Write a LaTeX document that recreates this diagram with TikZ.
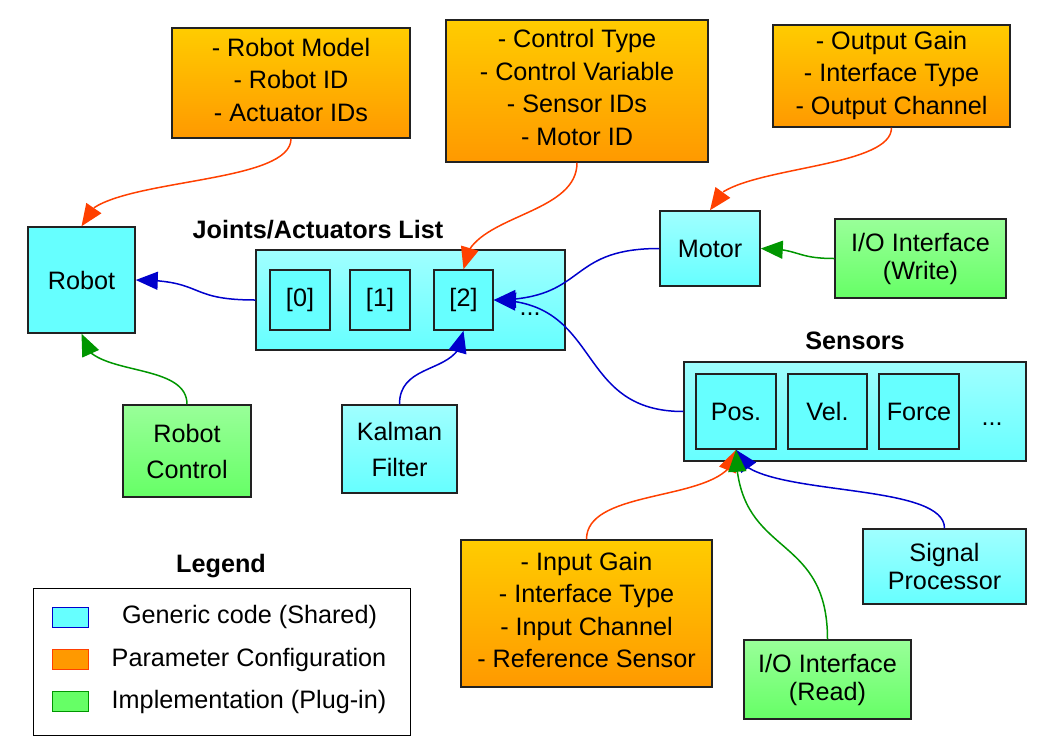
\documentclass[tikz,border=0pt]{standalone}
\usepackage{fontspec}
\setmainfont{Liberation Sans}
\usetikzlibrary{arrows.meta,bending}

\definecolor{genericcyan}{RGB}{102,255,255}
\definecolor{genericlight}{RGB}{160,255,255}
\definecolor{paramtop}{RGB}{255,204,0}
\definecolor{parambottom}{RGB}{255,153,0}
\definecolor{plugtop}{RGB}{153,255,153}
\definecolor{plugbottom}{RGB}{102,255,102}
\definecolor{paramarrow}{RGB}{255,64,0}
\definecolor{genericarrow}{RGB}{0,0,204}
\definecolor{plugarrow}{RGB}{0,150,0}
\definecolor{boxline}{RGB}{34,34,34}

\begin{document}
\begin{tikzpicture}[x=1pt, y=-1pt,
    box/.style={draw=boxline, line width=1.5pt, inner sep=0pt, align=center,
        font=\fontsize{25.2}{28}\selectfont},
    generic/.style={box, top color=genericlight, bottom color=genericcyan},
    flat/.style={box, fill=genericcyan},
    param/.style={box, top color=paramtop, bottom color=parambottom,
        font=\fontsize{25.2}{32.5}\selectfont, text depth=7pt},
    plugin/.style={box, top color=plugtop, bottom color=plugbottom},
    title/.style={font=\fontsize{25.2}{28}\selectfont\bfseries},
    conn/.style={line width=1.5pt, -{Triangle[length=22pt,width=18pt,flex=1]}}]

    \useasboundingbox (0,0) rectangle (1054,755);

    % parameter blocks
    \node[param, minimum width=238, minimum height=110] (robotparams) at (291,83)
        {- Robot Model\\- Robot ID\\- Actuator IDs};
    \node[param, minimum width=262, minimum height=142] (controlparams) at (577,91)
        {- Control Type\\- Control Variable\\- Sensor IDs\\- Motor ID};
    \node[param, minimum width=237, minimum height=102] (outputparams) at (891.5,76)
        {- Output Gain\\- Interface Type\\- Output Channel};
    \node[param, minimum width=251, minimum height=147] (inputparams) at (586.5,613.5)
        {- Input Gain\\- Interface Type\\- Input Channel\\- Reference Sensor};

    % generic blocks
    \node[flat, minimum width=107, minimum height=106] (robot) at (81.5,280) {Robot};
    \node[generic, minimum width=100, minimum height=75] (motor) at (710,248.5) {Motor};
    \node[generic, minimum width=115, minimum height=88, font=\fontsize{25.2}{36}\selectfont]
        (kalman) at (399.5,449) {Kalman\\Filter};
    \node[generic, minimum width=163, minimum height=75] (sigproc) at (944.5,566.5)
        {Signal\\Processor};

    % joints list
    \node[title] (jointstitle) at (318,230) {Joints/Actuators List};
    \node[generic, minimum width=309, minimum height=100] (joints) at (410.5,300) {};
    \node[flat, minimum width=60, minimum height=60] (joint0) at (300,300) {[0]};
    \node[flat, minimum width=60, minimum height=60] (joint1) at (380,300) {[1]};
    \node[flat, minimum width=59, minimum height=60] (joint2) at (463.5,300) {[2]};
    \node[font=\fontsize{25.2}{28}\selectfont] (jointsdots) at (530,314) {...};

    % sensors list
    \node[title] (sensorstitle) at (855,341) {Sensors};
    \node[generic, minimum width=342, minimum height=99] (sensors) at (855,411.5) {};
    \node[flat, minimum width=80, minimum height=75] (pos) at (736,411.5) {Pos.};
    \node[flat, minimum width=79, minimum height=75] (vel) at (827.5,411.5) {Vel.};
    \node[flat, minimum width=80, minimum height=75] (force) at (919,411.5) {Force};
    \node[font=\fontsize{25.2}{28}\selectfont] (sensorsdots) at (992,424) {...};

    % plug-in blocks
    \node[plugin, minimum width=128, minimum height=92, font=\fontsize{25.2}{36}\selectfont]
        (robotctrl) at (187,451) {Robot\\Control};
    \node[plugin, minimum width=171, minimum height=79] (iowrite) at (920.5,258.5)
        {I/O Interface\\(Write)};
    \node[plugin, minimum width=167, minimum height=79] (ioread) at (827.5,679.5)
        {I/O Interface\\(Read)};

    % parameter connectors
    \draw[conn, paramarrow] (robotparams.south) .. controls +(0,50) and +(0,-50) .. (robot.north);
    \draw[conn, paramarrow] (controlparams.south) .. controls +(0,55) and +(0,-55) .. (joint2.north);
    \draw[conn, paramarrow] (outputparams.south) .. controls +(0,45) and +(0,-45) .. (motor.north);
    \draw[conn, paramarrow] (inputparams.north) .. controls +(0,-55) and +(0,55) .. (pos.south);

    % generic connectors
    \draw[conn, genericarrow] (joints.west) .. controls +(-70,0) and +(70,0) .. (robot.east);
    \draw[conn, genericarrow] (motor.west) .. controls +(-95,0) and +(95,0) .. (joint2.east);
    \draw[conn, genericarrow] (sensors.west) .. controls +(-110,0) and +(110,0) .. (joint2.east);
    \draw[conn, genericarrow] (kalman.north) .. controls +(0,-45) and +(0,45) .. (joint2.south);
    \draw[conn, genericarrow] (sigproc.north) .. controls +(0,-50) and +(0,50) .. (pos.south);

    % plug-in connectors
    \draw[conn, plugarrow] (robotctrl.north) .. controls +(0,-45) and +(0,45) .. (robot.south);
    \draw[conn, plugarrow] (iowrite.west) .. controls +(-40,0) and +(40,0) .. (motor.east);
    \draw[conn, plugarrow] (ioread.north) .. controls +(0,-110) and +(0,110) .. (pos.south);

    % legend
    \node[title] (legendtitle) at (221,566) {Legend};
    \node[draw=black, line width=1pt, minimum width=377, minimum height=147] (legend) at (221.5,661.5) {};
    \node[draw=genericarrow, fill=genericcyan, minimum width=36, minimum height=20, inner sep=0pt]
        (keygeneric) at (70,617.5) {};
    \node[draw=paramarrow, fill=parambottom, minimum width=36, minimum height=20, inner sep=0pt]
        (keyparam) at (70,659.5) {};
    \node[draw=plugarrow, fill=plugbottom, minimum width=36, minimum height=20, inner sep=0pt]
        (keyplugin) at (70,701) {};
    \node[font=\fontsize{25.2}{28}\selectfont] (textgeneric) at (249.5,617) {Generic code (Shared)};
    \node[font=\fontsize{25.2}{28}\selectfont] (textparam) at (249,660) {Parameter Configuration};
    \node[font=\fontsize{25.2}{28}\selectfont] (textplugin) at (249,702) {Implementation (Plug-in)};

\end{tikzpicture}
\end{document}
